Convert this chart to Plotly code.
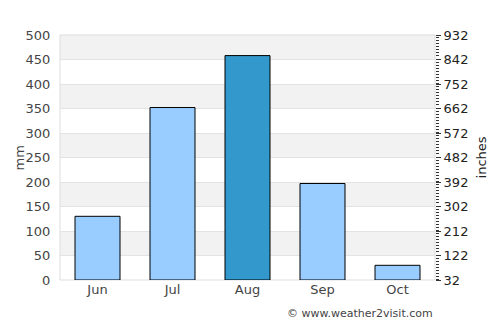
import plotly.graph_objects as go

months = ["Jun", "Jul", "Aug", "Sep", "Oct"]
rain_mm = [130, 352, 458, 197, 30]
bar_colors = ["#99ccff", "#99ccff", "#3399cc", "#99ccff", "#99ccff"]
left_ticks = [0, 50, 100, 150, 200, 250, 300, 350, 400, 450, 500]
right_ticks = [32, 122, 212, 302, 392, 482, 572, 662, 752, 842, 932]
band_starts = [50, 150, 250, 350, 450]

FONT = "DejaVu Sans"
TXT = "#444444"

fig = go.Figure()
fig.add_trace(go.Bar(
    x=months, y=rain_mm, width=0.6,
    marker=dict(color=bar_colors, line=dict(color="black", width=1)),
    hoverinfo="skip",
))
# invisible trace to activate the secondary axis
fig.add_trace(go.Scatter(x=months, y=[None]*5, yaxis="y2", showlegend=False, hoverinfo="skip"))

shapes = []
for b in band_starts:
    shapes.append(dict(type="rect", xref="paper", yref="y", x0=0, x1=1, y0=b, y1=b + 50,
                       fillcolor="#f2f2f2", line=dict(width=0), layer="below"))
# plot border (light gray)
shapes.append(dict(type="rect", xref="paper", yref="paper", x0=0, x1=1, y0=0, y1=1,
                   line=dict(color="#dddddd", width=1), fillcolor="rgba(0,0,0,0)", layer="below"))

fig.update_layout(
    width=500, height=325,
    margin=dict(l=60, r=65, t=35, b=45),
    paper_bgcolor="white", plot_bgcolor="white",
    showlegend=False,
    bargap=0.4,
    font=dict(family=FONT, size=12, color=TXT),
    shapes=shapes,
    xaxis=dict(showgrid=False, showline=False, zeroline=False, ticks="",
               tickfont=dict(family=FONT, size=13, color=TXT)),
    yaxis=dict(range=[0, 500], tickvals=left_ticks, showgrid=True, gridcolor="#e3e3e3",
               gridwidth=1, zeroline=False, showline=False,
               ticks="outside", ticklen=6, tickcolor="rgba(0,0,0,0)",
               tickfont=dict(family=FONT, size=13, color=TXT)),
    yaxis2=dict(range=[32, 932], tickvals=right_ticks, overlaying="y", side="right",
                showgrid=False, zeroline=False, showline=False,
                ticks="outside", ticklen=5, tickcolor="#333333", tickwidth=1,
                minor=dict(dtick=11.25, ticks="outside", ticklen=3, tickcolor="#333333", tickwidth=1),
                tickfont=dict(family=FONT, size=13, color="#222222")),
    annotations=[
        dict(text="mm", xref="paper", yref="paper", x=-0.107, y=0.5, textangle=-90,
             showarrow=False, font=dict(family=FONT, size=13, color=TXT), xanchor="center", yanchor="middle"),
        dict(text="inches", xref="paper", yref="paper", x=1.125, y=0.5, textangle=-90,
             showarrow=False, font=dict(family=FONT, size=13, color="#222222"), xanchor="center", yanchor="middle"),
        dict(text="© www.weather2visit.com", xref="paper", yref="paper", x=1.0, y=-0.135,
             showarrow=False, font=dict(family=FONT, size=11, color=TXT), xanchor="right", yanchor="middle"),
    ],
)

fig.write_html("out.html")
